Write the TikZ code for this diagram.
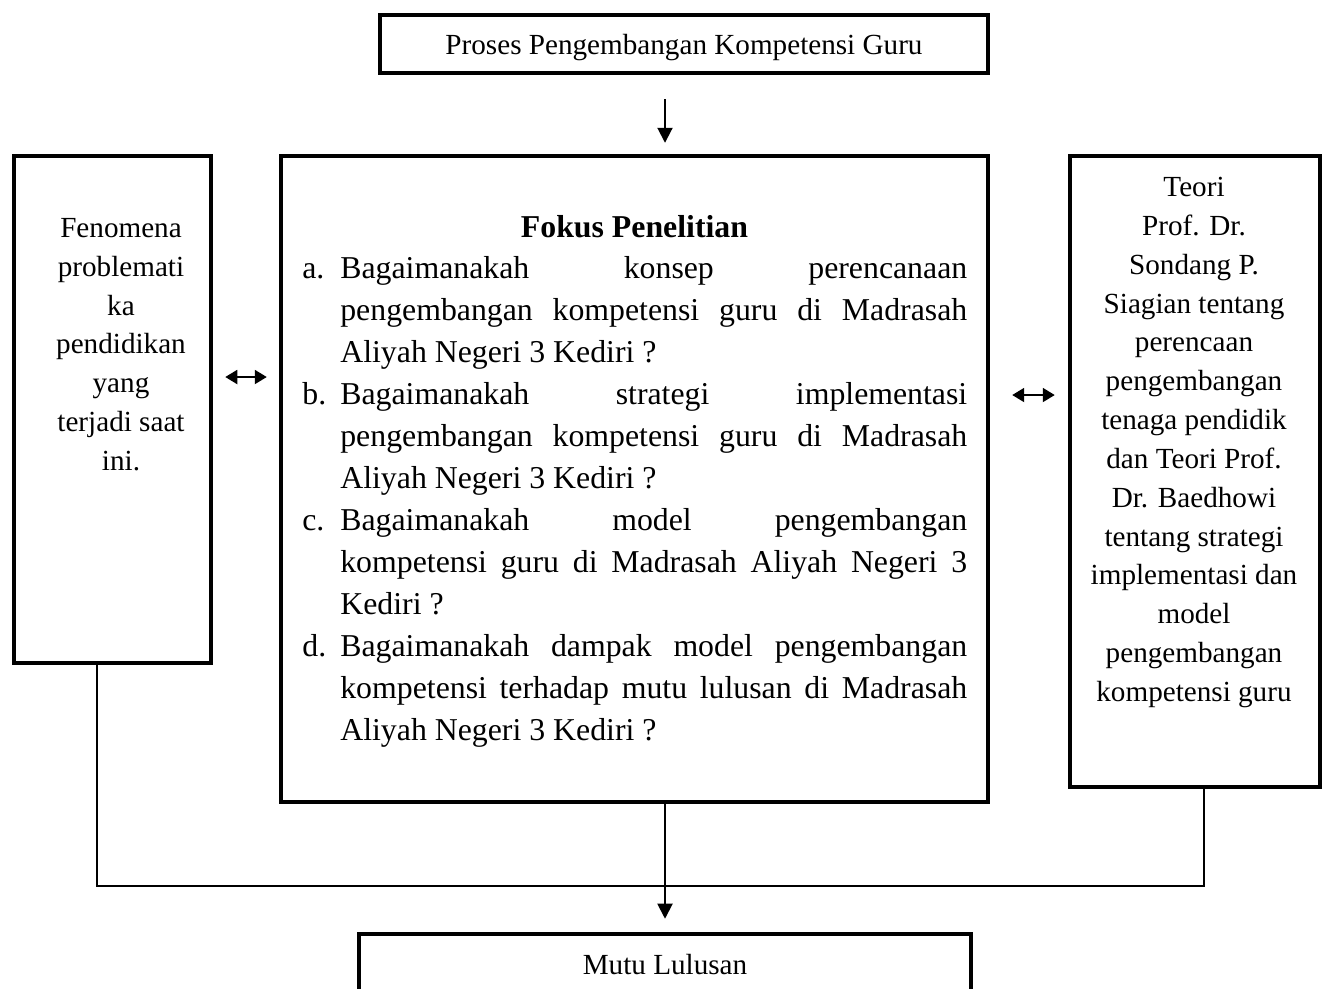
\documentclass[tikz,border=0pt]{standalone}
\usepackage{fontspec}
\setmainfont{Liberation Serif}
\usetikzlibrary{arrows.meta}
\tikzset{
	box/.style={draw, line width=2.6pt, inner sep=0pt},
	words/.style={inner sep=0pt},
	link/.style={line width=1.1pt},
	oneway/.style={link, -{Triangle[length=0.3cm, width=0.3cm]}},
	twoway/.style={link, {Triangle[length=0.24cm, width=0.28cm]}-{Triangle[length=0.24cm, width=0.28cm]}}
}
\newcommand{\sidefont}{\fontsize{16.6}{22.1}\selectfont}
\newcommand{\listfont}{\fontsize{18.1}{23.9}\selectfont}

\begin{document}
\begin{tikzpicture}[x=0.02cm, y=-0.02cm, font=\fontsize{16.6}{22}\selectfont]
		\useasboundingbox (0,0) rectangle (1328,988);
		\clip (0,0) rectangle (1328,988);

		% Top box
		\node[box, text depth=0pt, minimum width=12.16cm, minimum height=1.16cm] (proses) at (684,44) {Proses Pengembangan Kompetensi Guru};

		% Middle row of boxes
		\node[box, minimum width=3.94cm, minimum height=10.14cm] (fenomena) at (112.5,409.5) {};
		\node[box, minimum width=14.14cm, minimum height=12.92cm] (fokus) at (634.5,479) {};
		\node[box, minimum width=5cm, minimum height=12.62cm] (teori) at (1195,471.5) {};

		% Bottom box, cut by the lower edge
		\node[box, minimum width=12.24cm, minimum height=1.24cm] (mutu) at (665,965) {Mutu Lulusan};

		% Text of the side boxes
		\node[words, anchor=north, align=center, font=\sidefont] (fenomenatext) at (121,218) {Fenomena\\problemati\\ka\\pendidikan\\yang\\terjadi saat\\ini.};
		\node[words, anchor=north, align=center, font=\sidefont] (teoritext) at (1194,177) {Teori\\Prof. Dr.\\Sondang P.\\Siagian tentang\\perencaan\\pengembangan\\tenaga pendidik\\dan Teori Prof.\\Dr. Baedhowi\\tentang strategi\\implementasi dan\\model\\pengembangan\\kompetensi guru};

		% Text of the middle box
		\node[words, anchor=base, font=\fontsize{18.1}{24}\selectfont\bfseries] (judul) at (634.5,237) {Fokus Penelitian};
		\node[words, anchor=north west, text width=13.3cm, align=justify, font=\listfont] (daftar) at (302,256) {%
			\tolerance=10000 \hbadness=10000 \hyphenpenalty=10000
			\hangindent=0.76cm \hangafter=1 \noindent\makebox[0.76cm][l]{a.}Bagaimanakah konsep perencanaan \linebreak pengembangan kompetensi guru di Madrasah \linebreak Aliyah Negeri 3 Kediri ?\par
			\hangindent=0.76cm \hangafter=1 \noindent\makebox[0.76cm][l]{b.}Bagaimanakah strategi implementasi \linebreak pengembangan kompetensi guru di Madrasah \linebreak Aliyah Negeri 3 Kediri ?\par
			\hangindent=0.76cm \hangafter=1 \noindent\makebox[0.76cm][l]{c.}Bagaimanakah model pengembangan \linebreak kompetensi guru di Madrasah Aliyah Negeri 3 \linebreak Kediri ?\par
			\hangindent=0.76cm \hangafter=1 \noindent\makebox[0.76cm][l]{d.}Bagaimanakah dampak model pengembangan \linebreak kompetensi terhadap mutu lulusan di Madrasah \linebreak Aliyah Negeri 3 Kediri ?\par};

		% Arrows between the boxes
		\draw[oneway, shorten <=0.48cm, shorten >=0.22cm] (proses.south -| mutu.north) -- (fokus.north -| mutu.north);
		\draw[twoway, shorten <=0.24cm, shorten >=0.24cm] ([yshift=0.65cm]fenomena.east) -- ([yshift=0.65cm]fenomena.east -| fokus.west);
		\draw[twoway, shorten <=0.44cm, shorten >=0.26cm] ([yshift=1.68cm]fokus.east) -- ([yshift=1.68cm]fokus.east -| teori.west);

		% Lines down to the bottom box
		\coordinate (join) at (665,886);
		\draw[link] ([xshift=-0.31cm]fenomena.south) |- (join) -| ([xshift=0.18cm]teori.south);
		\draw[oneway, shorten >=0.26cm] (fokus.south -| mutu.north) -- (mutu.north);
	\end{tikzpicture}
\end{document}
